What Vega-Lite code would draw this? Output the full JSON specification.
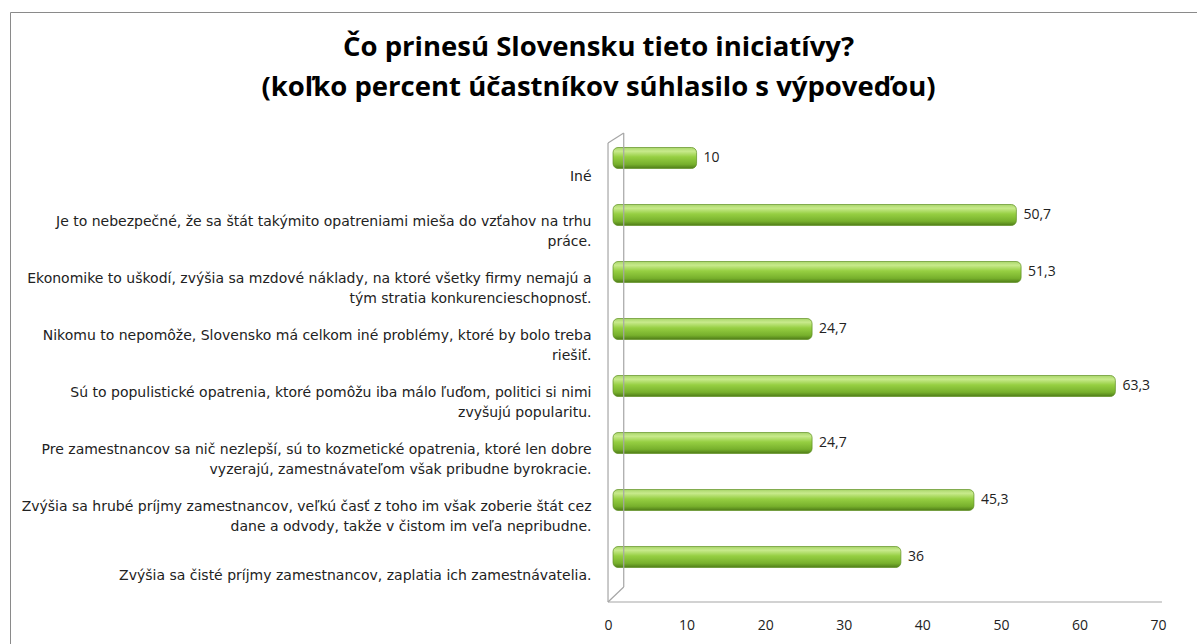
{
  "$schema": "https://vega.github.io/schema/vega-lite/v6.json",
  "width": 1187,
  "height": 632,
  "autosize": {"type": "none"},
  "padding": {"left": 10, "top": 12, "right": 0, "bottom": 0},
  "background": "white",
  "config": {
    "view": {"stroke": "#8a8a8a", "strokeWidth": 1},
    "locale": {"number": {"decimal": ",", "thousands": " ", "grouping": [3], "currency": ["", " €"]}}
  },
  "title": {
    "text": ["Čo prinesú Slovensku tieto iniciatívy?", "(koľko percent účastníkov súhlasilo s výpoveďou)"],
    "font": "Open Sans",
    "fontSize": 27.5,
    "fontWeight": "bold",
    "lineHeight": 40,
    "color": "#000000",
    "anchor": "middle",
    "frame": "group",
    "offset": -89,
    "dx": -5
  },
  "layer": [
    {
      "data": {
        "values": [
          {"statement": "Iné", "pct": 10},
          {"statement": "Je to nebezpečné, že sa štát takýmito opatreniami mieša do vzťahov na trhu|práce.", "pct": 50.7},
          {"statement": "Ekonomike to uškodí, zvýšia sa mzdové náklady, na ktoré všetky firmy nemajú a|tým stratia konkurencieschopnosť.", "pct": 51.3},
          {"statement": "Nikomu to nepomôže, Slovensko má celkom iné problémy, ktoré by bolo treba|riešiť.", "pct": 24.7},
          {"statement": "Sú to populistické opatrenia, ktoré pomôžu iba málo ľuďom, politici si nimi|zvyšujú popularitu.", "pct": 63.3},
          {"statement": "Pre zamestnancov sa nič nezlepší, sú to kozmetické opatrenia, ktoré len dobre|vyzerajú, zamestnávateľom však pribudne byrokracie.", "pct": 24.7},
          {"statement": "Zvýšia sa hrubé príjmy zamestnancov, veľkú časť z toho im však zoberie štát cez|dane a odvody, takže v čistom im veľa nepribudne.", "pct": 45.3},
          {"statement": "Zvýšia sa čisté príjmy zamestnancov, zaplatia ich zamestnávatelia.", "pct": 36}
        ]
      },
      "encoding": {
        "y": {
          "field": "statement",
          "type": "nominal",
          "sort": null,
          "scale": {"range": [135.5, 555.5], "paddingInner": 0.632, "paddingOuter": 0},
          "axis": {
            "title": null,
            "offset": -598,
            "domain": false,
            "ticks": false,
            "tickSize": 0,
            "grid": false,
            "labelPadding": 17,
            "labelOffset": {"condition": {"test": "indexof(datum.value, '|') >= 0", "value": 7}, "value": 19},
            "labelFont": "DejaVu Sans",
            "labelFontSize": 14,
            "labelColor": "#222222",
            "labelAlign": "right",
            "labelBaseline": "middle",
            "labelLimit": 0,
            "labelLineHeight": 20,
            "labelOverlap": false,
            "labelBound": false,
            "labelExpr": "split(datum.label, '|')"
          }
        }
      },
      "layer": [
        {
          "mark": {
            "type": "bar",
            "xOffset": 10,
            "x2Offset": 5,
            "cornerRadiusEnd": 5,
            "stroke": "#5e8f22",
            "strokeWidth": 0.7,
            "fill": {
              "gradient": "linear",
              "x1": 0, "y1": 0, "x2": 0, "y2": 1,
              "stops": [
                {"offset": 0, "color": "#a9d66a"},
                {"offset": 0.18, "color": "#c8ea8c"},
                {"offset": 0.45, "color": "#96cf42"},
                {"offset": 0.8, "color": "#77b02c"},
                {"offset": 1, "color": "#4f7d18"}
              ]
            }
          },
          "encoding": {
            "x": {
              "field": "pct",
              "type": "quantitative",
              "scale": {"domain": [-76.11, 74.96], "nice": false, "zero": false},
              "axis": {
                "title": null,
                "values": [0, 10, 20, 30, 40, 50, 60, 70],
                "offset": -42,
                "domain": false,
                "ticks": false,
                "tickSize": 0,
                "grid": false,
                "labelPadding": 16,
                "labelFont": "Open Sans",
                "labelFontSize": 14,
                "labelColor": "#222222",
                "labelFlush": false,
                "format": "d"
              }
            },
            "x2": {"datum": 0}
          }
        },
        {
          "mark": {"type": "text", "align": "left", "baseline": "middle", "dx": 17, "font": "Open Sans", "fontSize": 14, "color": "#222222"},
          "encoding": {
            "x": {"field": "pct", "type": "quantitative", "scale": {"domain": [-76.11, 74.96], "nice": false, "zero": false}},
            "text": {"field": "pct", "type": "quantitative", "format": ".1~f"}
          }
        }
      ]
    },
    {
      "data": {"values": [{}]},
      "layer": [
        {
          "mark": {"type": "rule", "color": "#a6a6a6", "strokeWidth": 1.2},
          "encoding": {
            "x": {"datum": 0, "type": "quantitative", "scale": {"domain": [-76.11, 74.96], "nice": false, "zero": false}},
            "x2": {"datum": 70.5},
            "y": {"datum": 590, "type": "quantitative", "scale": {"domain": [0, 632], "reverse": true, "nice": false, "zero": false}, "axis": null}
          }
        },
        {
          "mark": {"type": "rule", "color": "#a6a6a6", "strokeWidth": 1.2},
          "encoding": {
            "x": {"datum": 0, "type": "quantitative", "scale": {"domain": [-76.11, 74.96], "nice": false, "zero": false}},
            "y": {"datum": 131, "type": "quantitative", "scale": {"domain": [0, 632], "reverse": true, "nice": false, "zero": false}, "axis": null},
            "y2": {"datum": 590}
          }
        },
        {
          "mark": {"type": "rule", "color": "#a6a6a6", "strokeWidth": 1.2},
          "encoding": {
            "x": {"datum": 2, "type": "quantitative", "scale": {"domain": [-76.11, 74.96], "nice": false, "zero": false}},
            "y": {"datum": 121, "type": "quantitative", "scale": {"domain": [0, 632], "reverse": true, "nice": false, "zero": false}, "axis": null},
            "y2": {"datum": 575}
          }
        },
        {
          "mark": {"type": "rule", "color": "#a6a6a6", "strokeWidth": 1.2},
          "encoding": {
            "x": {"datum": 0, "type": "quantitative", "scale": {"domain": [-76.11, 74.96], "nice": false, "zero": false}},
            "x2": {"datum": 2},
            "y": {"datum": 131, "type": "quantitative", "scale": {"domain": [0, 632], "reverse": true, "nice": false, "zero": false}, "axis": null},
            "y2": {"datum": 121}
          }
        },
        {
          "mark": {"type": "rule", "color": "#a6a6a6", "strokeWidth": 1.2},
          "encoding": {
            "x": {"datum": 0, "type": "quantitative", "scale": {"domain": [-76.11, 74.96], "nice": false, "zero": false}},
            "x2": {"datum": 2},
            "y": {"datum": 590, "type": "quantitative", "scale": {"domain": [0, 632], "reverse": true, "nice": false, "zero": false}, "axis": null},
            "y2": {"datum": 575}
          }
        }
      ]
    }
  ],
  "resolve": {"scale": {"y": "independent"}}
}
